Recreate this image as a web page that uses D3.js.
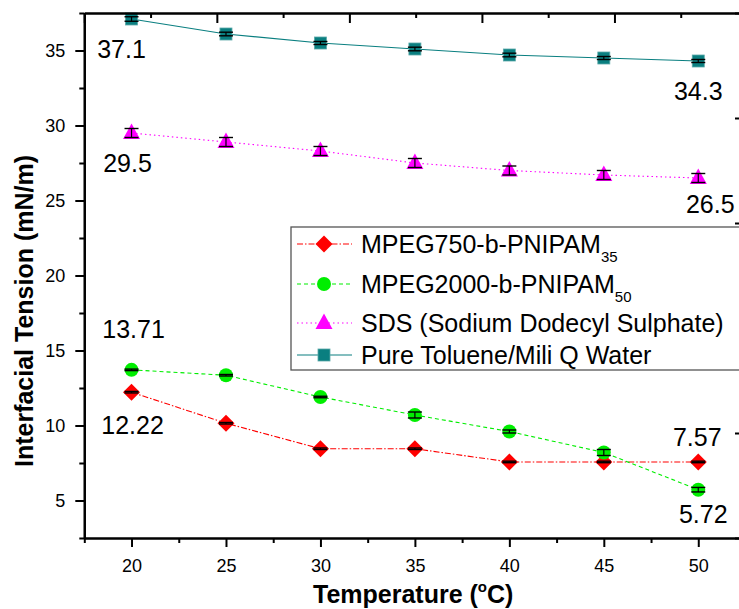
<!DOCTYPE html>
<html>
<head>
<meta charset="utf-8">
<script src="https://cdn.jsdelivr.net/npm/d3@7"></script>
<style>
  body { margin: 0; background: #fff; }
  svg { display: block; font-family: "Liberation Sans", Arial, sans-serif; }
</style>
</head>
<body>
<svg width="739" height="609"></svg>
<script>
// temperatures (°C) and measured interfacial tension (mN/m)
const temps = [20, 25, 30, 35, 40, 45, 50];

const mpeg750 = [12.22, 10.15, 8.45, 8.45, 7.57, 7.57, 7.57];
const mpeg750Err = [0.05, 0.05, 0.05, 0.05, 0.05, 0.05, 0.05];

const mpeg2000 = [13.71, 13.35, 11.9, 10.7, 9.6, 8.2, 5.72];
const mpeg2000Err = [0.05, 0.05, 0.05, 0.2, 0.1, 0.2, 0.15];

const sds = [29.5, 28.9, 28.3, 27.5, 27.0, 26.7, 26.5];
const sdsErr = [0.3, 0.3, 0.3, 0.3, 0.3, 0.3, 0.3];

const toluene = [37.1, 36.1, 35.5, 35.1, 34.7, 34.5, 34.3];
const tolueneErr = [0.15, 0.12, 0.1, 0.12, 0.12, 0.1, 0.1];

const seriesNames = [
    ["MPEG750-b-PNIPAM", "35"],
    ["MPEG2000-b-PNIPAM", "50"],
    ["SDS (Sodium Dodecyl Sulphate)", ""],
    ["Pure Toluene/Mili Q Water", ""]
];

const xTicks = [20, 25, 30, 35, 40, 45, 50];
const xMinorTicks = [17.5, 22.5, 27.5, 32.5, 37.5, 42.5, 47.5];
const yTicks = [5, 10, 15, 20, 25, 30, 35];
const yMinorTicks = [2.5, 7.5, 12.5, 17.5, 22.5, 27.5, 32.5, 37.5];

const svg = d3.select("svg");

const x = d3.scaleLinear().domain([17.5, 52.5]).range([84.3, 745.5]);
const y = d3.scaleLinear().domain([2.5, 37.5]).range([538, 13]);

const series = [
    { values: mpeg750, err: mpeg750Err, color: "#ff0000", dash: "6,2,1.5,2", shape: "diamond" },
    { values: mpeg2000, err: mpeg2000Err, color: "#00ee00", dash: "4,3", shape: "circle" },
    { values: sds, err: sdsErr, color: "#ff00ff", dash: "1.5,3", shape: "triangle" },
    { values: toluene, err: tolueneErr, color: "#0a7f80", dash: null, shape: "square" }
];

function marker(g, shape, color) {
    if (shape === "diamond") {
        g.append("path").attr("d", "M0,-8.5L8.5,0L0,8.5L-8.5,0Z").attr("fill", color);
    } else if (shape === "circle") {
        g.append("circle").attr("r", 7).attr("fill", color);
    } else if (shape === "triangle") {
        g.append("path").attr("d", "M0,-9.5L8.5,6L-8.5,6Z").attr("fill", color);
    } else {
        g.append("rect").attr("x", -6).attr("y", -6).attr("width", 12).attr("height", 12)
            .attr("fill", color).attr("stroke", "#5aa9a9").attr("stroke-width", 0.8);
    }
}

// connecting lines
const line = d3.line().x((d, i) => x(temps[i])).y(d => y(d));
series.forEach(s => {
    svg.append("path")
        .datum(s.values)
        .attr("d", line)
        .attr("fill", "none")
        .attr("stroke", s.color)
        .attr("stroke-width", s.dash ? 1.1 : 1.2)
        .attr("stroke-dasharray", s.dash);
});

// markers and error bars
series.forEach(s => {
    const pts = svg.append("g").selectAll("g")
        .data(s.values)
        .enter().append("g")
        .attr("transform", (d, i) => `translate(${x(temps[i])},${y(d)})`);
    pts.each(function () { marker(d3.select(this), s.shape, s.color); });
    pts.append("line")
        .attr("x1", 0).attr("x2", 0)
        .attr("y1", (d, i) => y(d + s.err[i]) - y(d))
        .attr("y2", (d, i) => y(d - s.err[i]) - y(d))
        .attr("stroke", "#000").attr("stroke-width", 1.2);
    [1, -1].forEach(sign => {
        pts.append("line")
            .attr("x1", -7).attr("x2", 7)
            .attr("y1", (d, i) => y(d + sign * s.err[i]) - y(d))
            .attr("y2", (d, i) => y(d + sign * s.err[i]) - y(d))
            .attr("stroke", "#000").attr("stroke-width", 1.4);
    });
});

// value labels at the ends of each series
const valueLabels = [
    [3, 0, -10, 39], [3, 6, 0, 39],
    [2, 0, -4, 39], [2, 6, 12, 35],
    [1, 0, 2, -32], [1, 6, 5, 33],
    [0, 0, 1, 42], [0, 6, -1, -16]
];
svg.append("g").selectAll("text")
    .data(valueLabels)
    .enter().append("text")
    .attr("x", d => x(temps[d[1]]) + d[2])
    .attr("y", d => y(series[d[0]].values[d[1]]) + d[3])
    .attr("text-anchor", "middle")
    .attr("font-size", 25)
    .attr("fill", "#000")
    .text(d => String(series[d[0]].values[d[1]]));

// axes
function styleAxis(g, width) {
    g.select(".domain").attr("stroke", "#000").attr("stroke-width", width);
    g.selectAll(".tick line").attr("stroke", "#000").attr("stroke-width", 2);
    g.selectAll(".tick text").attr("fill", "#000").attr("font-size", 18);
}

svg.append("g")
    .attr("transform", "translate(84.3,0)")
    .call(d3.axisLeft(y).tickValues(yTicks).tickSize(9).tickPadding(10).tickSizeOuter(0))
    .call(g => styleAxis(g, 2.2));
svg.append("g")
    .attr("transform", "translate(84.3,0)")
    .call(d3.axisLeft(y).tickValues(yMinorTicks).tickSize(5).tickFormat("").tickSizeOuter(0))
    .call(g => styleAxis(g, 2.2));

svg.append("g")
    .attr("transform", "translate(0,538)")
    .call(d3.axisBottom(x).tickValues(xTicks).tickSize(9).tickPadding(12).tickSizeOuter(0))
    .call(g => styleAxis(g, 2.2));
svg.append("g")
    .attr("transform", "translate(0,538)")
    .call(d3.axisBottom(x).tickValues(xMinorTicks).tickSize(5).tickFormat("").tickSizeOuter(0))
    .call(g => styleAxis(g, 2.2));

// unlabelled frame axes on top and right
const xTop = d3.scaleLinear().domain([0, 10]).range([84.3, 747]);
svg.append("g")
    .attr("transform", "translate(0,13)")
    .call(d3.axisTop(xTop).tickValues([0, 2, 4, 6, 8, 10]).tickSize(-10).tickFormat("").tickSizeOuter(0))
    .call(g => styleAxis(g, 2.2));
svg.append("g")
    .attr("transform", "translate(0,13)")
    .call(d3.axisTop(xTop).tickValues([1, 3, 5, 7, 9]).tickSize(-5).tickFormat("").tickSizeOuter(0))
    .call(g => styleAxis(g, 2.2));

const yRight = d3.scaleLinear().domain([0, 5]).range([13, 538]);
svg.append("g")
    .attr("transform", "translate(747,0)")
    .call(d3.axisRight(yRight).ticks(5).tickSize(-12).tickFormat("").tickSizeOuter(0))
    .call(g => styleAxis(g, 2.2));

// axis titles
svg.append("text")
    .attr("transform", "translate(33,311) rotate(-90)")
    .attr("text-anchor", "middle")
    .attr("font-size", 25)
    .attr("font-weight", "bold")
    .text("Interfacial Tension (mN/m)");

const xTitle = svg.append("text")
    .attr("x", 313)
    .attr("y", 603)
    .attr("font-size", 25)
    .attr("font-weight", "bold");
xTitle.append("tspan").text("Temperature (");
xTitle.append("tspan").attr("font-size", 15).attr("dy", -11).text("o");
xTitle.append("tspan").attr("dy", 11).text("C)");

// legend
const legend = svg.append("g");
legend.append("rect")
    .attr("x", 291).attr("y", 227)
    .attr("width", 520).attr("height", 143)
    .attr("fill", "#fff")
    .attr("stroke", "#555").attr("stroke-width", 1.3);

const legendRows = [244, 284, 323, 355];
series.forEach((s, i) => {
    const row = legend.append("g").attr("transform", `translate(0,${legendRows[i]})`);
    row.append("line")
        .attr("x1", 297).attr("x2", 352)
        .attr("stroke", s.color).attr("stroke-width", 1.1)
        .attr("stroke-dasharray", s.dash);
    marker(row.append("g").attr("transform", "translate(324,0)"), s.shape, s.color);
    const t = row.append("text")
        .attr("x", 361).attr("y", 9)
        .attr("font-size", 25);
    t.append("tspan").text(seriesNames[i][0]);
    if (seriesNames[i][1]) {
        t.append("tspan").attr("font-size", 15).attr("dy", 9).text(seriesNames[i][1]);
    }
});
</script>
</body>
</html>
